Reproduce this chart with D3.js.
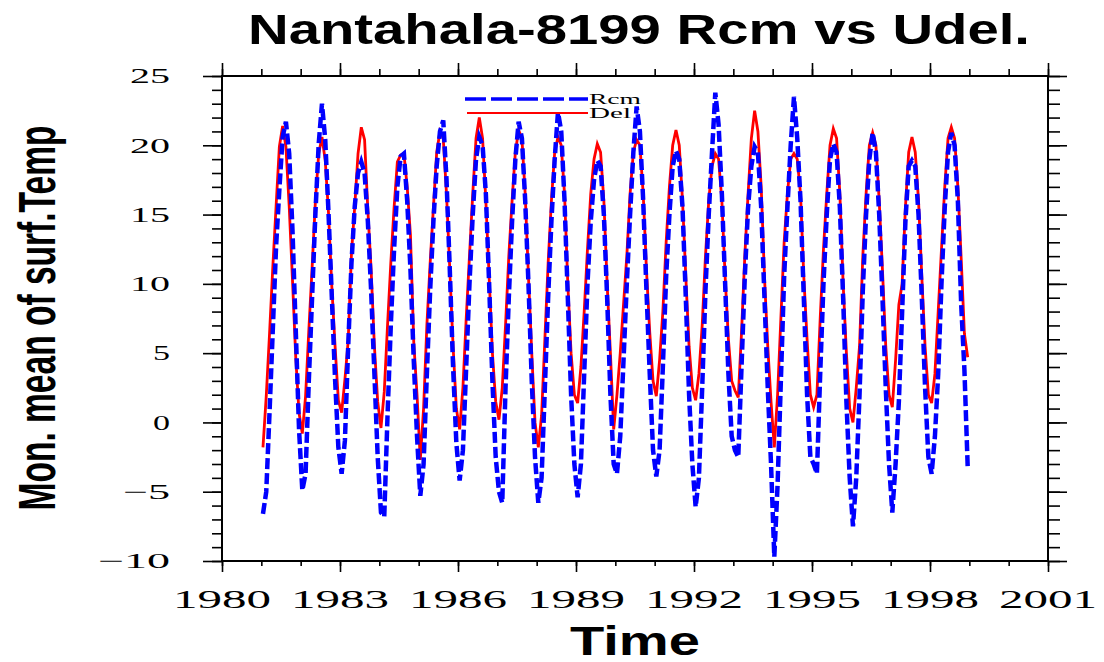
<!DOCTYPE html>
<html>
<head>
<meta charset="utf-8">
<script src="https://cdn.jsdelivr.net/npm/d3@7"></script>
<style>
body { margin: 0; background: #fff; }
</style>
</head>
<body>
<div id="chart"></div>
<script>

const xTicks = [1980, 1983, 1986, 1989, 1992, 1995, 1998, 2001];
const yTicks = [25, 20, 15, 10, 5, 0, -5, -10];
const startYear = 1981;

// monthly values, Jan..Dec, one row per year 1981-1998
const rcm = [
    -6.6, -5.0, 0.7, 6.7, 12.7, 16.8, 20.6, 21.7, 19.4, 13.9, 6.7, -0.5,
    -4.9, -3.7, 3.1, 9.1, 15.1, 20.1, 23.0, 20.4, 15.1, 9.1, 3.1, -1.8,
    -3.7, -1.3, 5.5, 11.5, 15.6, 18.0, 18.8, 18.0, 14.5, 9.5, 3.5, -2.5,
    -6.5, -6.8, 0.5, 7.0, 12.5, 17.0, 19.2, 19.4, 16.0, 11.0, 4.5, -1.0,
    -5.3, -3.0, 3.5, 9.5, 14.5, 18.5, 21.0, 21.8, 17.5, 11.0, 4.0, -1.5,
    -4.2, -2.0, 4.0, 10.0, 15.0, 19.0, 20.6, 20.0, 16.5, 10.0, 3.0, -2.5,
    -5.0, -5.8, 2.5, 9.0, 14.5, 19.0, 21.7, 20.5, 16.0, 10.0, 3.0, -2.5,
    -5.8, -4.0, 2.5, 9.0, 14.5, 19.0, 22.4, 21.0, 16.0, 9.0, 2.0, -3.0,
    -5.4, -3.0, 3.5, 10.0, 14.5, 17.5, 18.9, 18.5, 15.0, 9.0, 2.0, -3.0,
    -3.7, -1.0, 4.5, 10.0, 15.0, 19.5, 22.8, 21.0, 16.0, 9.5, 3.5, -2.0,
    -3.9, -2.0, 4.0, 10.5, 15.0, 18.5, 19.6, 19.0, 15.5, 9.0, 2.0, -3.0,
    -6.1, -4.0, 2.5, 9.5, 15.0, 19.5, 23.8, 21.5, 16.5, 10.0, 3.5, -1.0,
    -2.0, -2.5, 4.0, 10.5, 15.5, 18.5, 19.9, 19.5, 15.5, 9.0, 2.5, -3.0,
    -9.7, -4.5, 3.0, 10.5, 15.5, 20.0, 23.5, 20.5, 16.0, 9.0, 2.0, -2.5,
    -3.0, -3.7, 3.5, 10.0, 15.0, 19.0, 20.1, 19.5, 15.5, 9.0, 1.5, -4.0,
    -7.5, -4.0, 2.0, 9.5, 15.0, 19.0, 20.9, 19.5, 15.0, 9.0, 2.5, -3.0,
    -6.5, -3.0, 1.5, 8.0, 14.5, 18.5, 18.9, 18.5, 15.0, 9.0, 2.5, -2.5,
    -3.7, -1.0, 3.5, 10.0, 15.5, 19.5, 20.9, 20.0, 16.0, 8.6, 3.8, -3.2
];

const del = [
    -1.8, 1.9, 6.4, 11.2, 15.6, 19.9, 21.4, 19.9, 15.6, 10.3, 4.7, 0.7,
    -0.8, 1.9, 6.7, 11.2, 16.0, 19.4, 20.6, 18.9, 15.1, 9.8, 5.5, 1.6,
    0.7, 3.1, 5.9, 12.2, 15.6, 19.4, 21.3, 20.4, 15.3, 11.0, 5.5, 1.5,
    -0.4, 2.2, 7.0, 11.5, 15.5, 18.8, 19.3, 19.4, 17.0, 13.5, 5.8, 2.0,
    -2.7, 1.0, 7.0, 11.5, 15.5, 19.5, 21.0, 20.5, 16.5, 11.0, 5.5, 1.0,
    -0.5, 2.5, 7.5, 12.0, 16.5, 20.5, 22.0, 20.5, 16.0, 10.5, 5.0, 1.5,
    0.2, 2.5, 7.0, 12.0, 16.0, 19.5, 21.1, 20.5, 16.5, 10.5, 5.0, 0.0,
    -1.8, 0.5, 6.0, 11.5, 16.0, 19.5, 20.6, 20.0, 16.5, 10.0, 5.0, 2.0,
    1.4, 4.0, 8.0, 12.5, 16.5, 19.0, 20.1, 19.5, 16.0, 10.0, 5.0, -0.5,
    2.0, 5.0, 8.5, 12.0, 16.5, 19.5, 20.4, 20.0, 16.5, 11.0, 6.5, 3.0,
    1.9, 4.5, 8.0, 13.0, 17.0, 20.0, 21.1, 20.0, 16.0, 10.5, 5.5, 2.5,
    1.6, 3.5, 7.0, 12.0, 16.0, 18.5, 19.4, 19.0, 16.0, 10.5, 6.0, 3.0,
    2.3, 1.8, 6.5, 12.0, 16.5, 20.5, 22.5, 21.0, 17.0, 10.5, 5.5, 1.5,
    -1.8, 2.0, 7.5, 13.0, 16.5, 19.0, 19.4, 19.0, 16.5, 10.5, 6.0, 2.0,
    1.1, 2.0, 7.5, 12.5, 16.5, 20.0, 21.2, 20.5, 16.5, 10.0, 5.0, 1.0,
    0.0, 2.5, 5.5, 12.0, 16.5, 20.0, 20.9, 20.0, 16.0, 11.0, 5.5, 2.0,
    1.1, 4.5, 8.5, 10.0, 15.5, 19.5, 20.6, 19.5, 16.0, 10.5, 5.5, 2.0,
    1.4, 3.5, 8.0, 12.5, 17.0, 20.5, 21.3, 20.5, 17.0, 11.9, 6.4, 4.7
];

const W = 1104, H = 662;
const margin = {left: 222, right: 1048, top: 76, bottom: 561};

const svg = d3.select("#chart").append("svg")
    .attr("width", W)
    .attr("height", H);

const x = d3.scaleLinear().domain([1980, 2001]).range([margin.left, margin.right]);
const y = d3.scaleLinear().domain([-10, 25]).range([margin.bottom, margin.top]);

const monthTime = i => startYear + (i + 0.5) / 12;

// ticks, all pointing outward
function ticks(makeAxis, scale, transform, minorVals, majorVals, minorLen, majorLen) {
    svg.append("g").attr("class", "minor").attr("transform", transform)
        .call(makeAxis(scale).tickValues(minorVals).tickSize(minorLen).tickFormat(""));
    svg.append("g").attr("class", "major").attr("transform", transform)
        .call(makeAxis(scale).tickValues(majorVals).tickSize(majorLen).tickFormat(""));
}
const yearVals = d3.range(1980, 2002);
const unitVals = d3.range(-10, 26);

ticks(d3.axisBottom, x, `translate(0,${margin.bottom})`, yearVals, xTicks, 5, 11);
ticks(d3.axisTop, x, `translate(0,${margin.top})`, yearVals, xTicks, 7, 13);
ticks(d3.axisLeft, y, `translate(${margin.left},0)`, unitVals, yTicks, 10, 19);
ticks(d3.axisRight, y, `translate(${margin.right},0)`, unitVals, yTicks, 12, 19);

svg.selectAll(".minor .domain, .major .domain").remove();
svg.selectAll(".minor line, .major line").attr("stroke", "#000").attr("stroke-width", 1.6);

svg.append("rect")
    .attr("x", margin.left).attr("y", margin.top)
    .attr("width", margin.right - margin.left)
    .attr("height", margin.bottom - margin.top)
    .attr("fill", "none").attr("stroke", "#000").attr("stroke-width", 2);

// tick labels
svg.append("g").selectAll("text")
    .data(xTicks).enter().append("text")
    .attr("x", d => x(d))
    .attr("y", 608)
    .attr("text-anchor", "middle")
    .attr("font-family", "Liberation Serif, serif")
    .attr("font-size", 26)
    .attr("textLength", 98)
    .attr("lengthAdjust", "spacingAndGlyphs")
    .text(d => d);

svg.append("g").selectAll("text")
    .data(yTicks).enter().append("text")
    .attr("x", 170)
    .attr("y", d => y(d))
    .attr("dy", "0.35em")
    .attr("text-anchor", "end")
    .attr("font-family", "Liberation Serif, serif")
    .attr("font-size", 21)
    .attr("textLength", d => d < 0 ? (d <= -10 ? 72 : 47) : (Math.abs(d) >= 10 ? 40 : 17))
    .attr("lengthAdjust", "spacingAndGlyphs")
    .text(d => d < 0 ? "\u2212" + Math.abs(d) : d);

// titles
svg.append("text")
    .attr("x", 639).attr("y", 44)
    .attr("text-anchor", "middle")
    .attr("font-family", "Liberation Sans, Arial, sans-serif")
    .attr("font-weight", "bold")
    .attr("font-size", 42)
    .attr("textLength", 782)
    .attr("lengthAdjust", "spacingAndGlyphs")
    .text("Nantahala-8199 Rcm vs Udel.");

svg.append("text")
    .attr("x", 635).attr("y", 655)
    .attr("text-anchor", "middle")
    .attr("font-family", "Liberation Sans, Arial, sans-serif")
    .attr("font-weight", "bold")
    .attr("font-size", 40)
    .attr("textLength", 130)
    .attr("lengthAdjust", "spacingAndGlyphs")
    .text("Time");

// y title squeezed horizontally to the reference length
let yTitle = svg.append("text")
    .attr("text-anchor", "middle")
    .attr("font-family", "Liberation Sans, Arial, sans-serif")
    .attr("font-weight", "bold")
    .attr("font-size", 52)
    .text("Mon. mean of surf.Temp");
let squeeze = 385 / yTitle.node().getComputedTextLength();
yTitle.attr("transform", `translate(55,318) rotate(-90) scale(${squeeze},1)`);

// series
const line = d3.line()
    .x((d, i) => x(monthTime(i)))
    .y(d => y(d));

svg.append("path")
    .datum(del)
    .attr("d", line)
    .attr("fill", "none")
    .attr("stroke", "#ff0000")
    .attr("stroke-width", 2.8);

svg.append("path")
    .datum(rcm)
    .attr("d", line)
    .attr("fill", "none")
    .attr("stroke", "#0000ff")
    .attr("stroke-width", 4.5)
    .attr("stroke-dasharray", "11,4");

// legend
const legend = svg.append("g");
legend.append("line")
    .attr("x1", 465).attr("x2", 588).attr("y1", 99).attr("y2", 99)
    .attr("stroke", "#0000ff").attr("stroke-width", 3.5)
    .attr("stroke-dasharray", "21,5");
legend.append("line")
    .attr("x1", 467).attr("x2", 588).attr("y1", 113).attr("y2", 113)
    .attr("stroke", "#ff0000").attr("stroke-width", 2);
legend.selectAll("text")
    .data([["Rcm", 99, 52], ["Del", 113, 42]])
    .enter().append("text")
    .attr("x", 589)
    .attr("y", d => d[1])
    .attr("dy", "0.35em")
    .attr("font-family", "Liberation Serif, serif")
    .attr("font-size", 15)
    .attr("textLength", d => d[2])
    .attr("lengthAdjust", "spacingAndGlyphs")
    .text(d => d[0]);

</script>
</body>
</html>
